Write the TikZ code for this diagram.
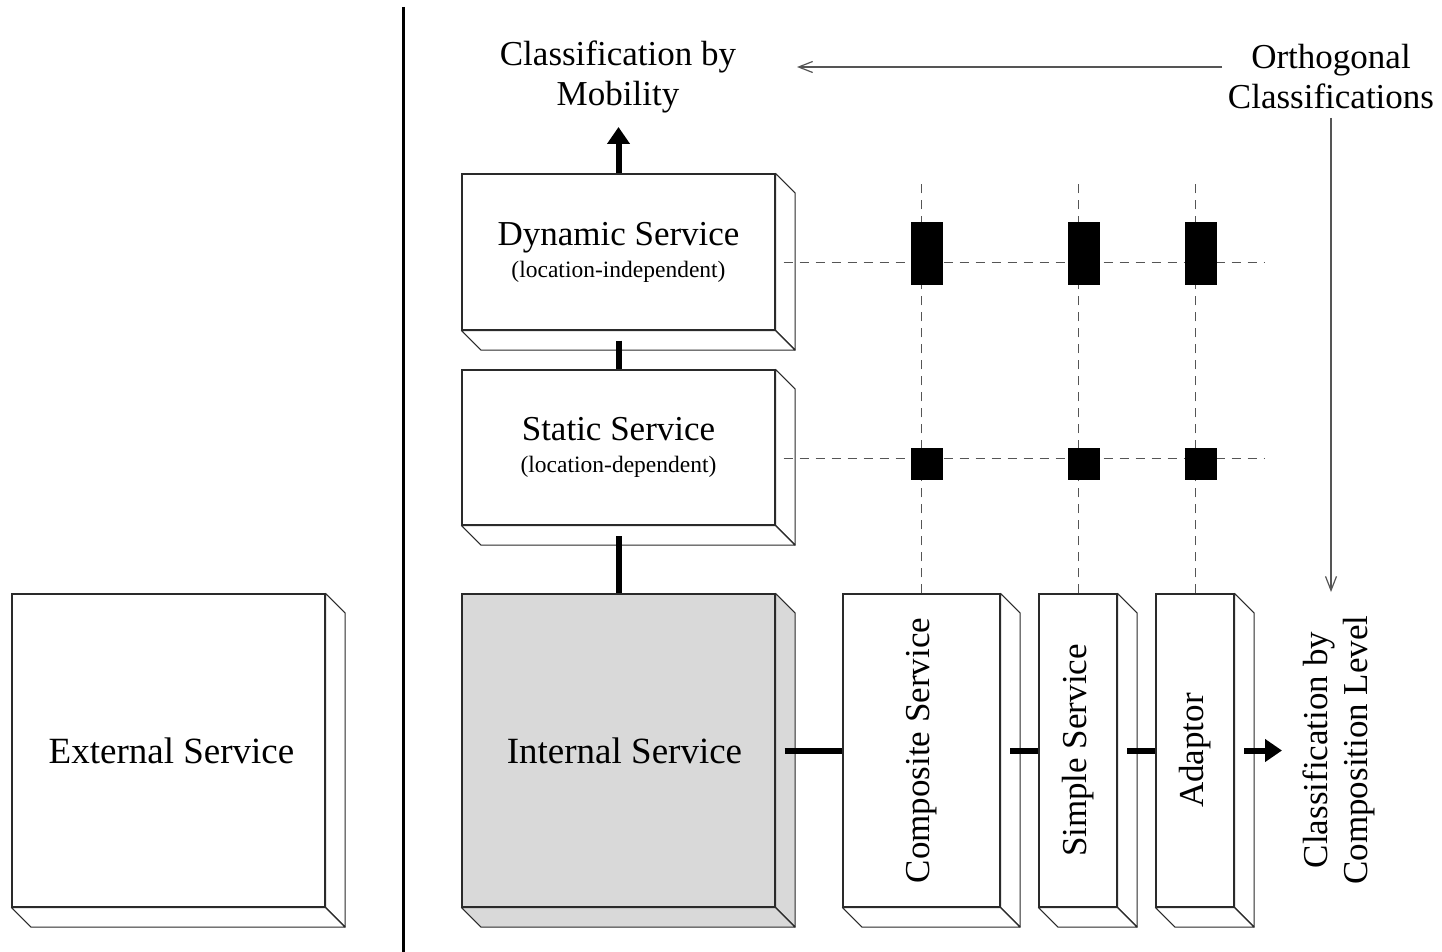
\documentclass[tikz,border=0pt]{standalone}
\usepackage{fontspec}
\setmainfont{Liberation Serif}
\usetikzlibrary{arrows.meta}

\definecolor{edge}{HTML}{2A2A2A}
\definecolor{guide}{HTML}{555555}
\definecolor{shade}{HTML}{D9D9D9}

\tikzset{
  svc/.style={draw=edge, line width=1.1pt, fill=white, rectangle, inner sep=0pt,
              font=\fontsize{35}{35}\selectfont, align=center},
  bigsvc/.style={svc, font=\fontsize{37}{37}\selectfont},
  side/.style={draw=edge, line width=1.1pt, line join=round},
  link/.style={line width=6pt, black},
  linkarrow/.style={link, -{Triangle[length=17pt,width=22pt]}},
  thinarrow/.style={guide, line width=1.2pt, -{Straight Barb[length=14pt,width=11pt,line width=1.2pt]}},
  gridline/.style={guide, line width=1pt, dash pattern=on 9pt off 7pt},
  marker/.style={fill=black, draw=none, inner sep=0pt, rectangle},
  caption/.style={font=\fontsize{35}{40}\selectfont, align=center, inner sep=0pt},
}

% depth of the extruded faces of a service box
\newcommand\depthoff{19.5}
% draws right and bottom faces of box #1 with fill #2
\newcommand\extrudebox[2]{%
  \filldraw[side, fill=#2] (#1.north east) -- ++(\depthoff,\depthoff)
    -- ([shift={(\depthoff,\depthoff)}]#1.south east) -- (#1.south east) -- cycle;
  \filldraw[side, fill=#2] (#1.south west) -- ++(\depthoff,\depthoff)
    -- ([shift={(\depthoff,\depthoff)}]#1.south east) -- (#1.south east) -- cycle;
}

\begin{document}
\begin{tikzpicture}[x=1pt, y=-1pt]
\useasboundingbox (0,0) rectangle (1442,952);

% separator between external and internal sides
\coordinate (septop) at (403.5,7);
\coordinate (sepbot) at (403.5,952);
\draw[line width=3.5pt] (septop) -- (sepbot);

% service boxes
\node[bigsvc, minimum width=313pt, minimum height=313pt] (ext) at (168.5,750.5) {\hspace*{6pt}External Service};
\node[svc, minimum width=313pt, minimum height=156pt] (dyn) at (618.5,252)
  {Dynamic Service\\[-3pt]{\fontsize{23.5}{28}\selectfont (location-independent)}};
\node[svc, minimum width=313pt, minimum height=155pt] (stat) at (618.5,447.5)
  {Static Service\\[-3pt]{\fontsize{23.5}{28}\selectfont (location-dependent)}};
\node[bigsvc, fill=shade, minimum width=313pt, minimum height=313pt] (int) at (618.5,750.5) {\hspace*{12pt}Internal Service};
\node[svc, minimum width=157pt, minimum height=313pt] (comp) at (921.5,750.5) {};
\node[svc, minimum width=78pt, minimum height=313pt] (simp) at (1078,750.5) {};
\node[svc, minimum width=78pt, minimum height=313pt] (adap) at (1195,750.5) {};

\extrudebox{ext}{white}
\extrudebox{dyn}{white}
\extrudebox{stat}{white}
\extrudebox{int}{shade}
\extrudebox{comp}{white}
\extrudebox{simp}{white}
\extrudebox{adap}{white}

% rotated labels of the composition boxes
\node[rotate=90, font=\fontsize{35}{35}\selectfont] at (comp.center) {Composite Service};
\node[rotate=90, font=\fontsize{35}{35}\selectfont] at (simp.center) {Simple Service};
\node[rotate=90, font=\fontsize{35}{35}\selectfont] at (adap.center) {Adaptor};

% classification labels
\node[caption] (mob) at (618,77) {Classification by\\Mobility};
\node[caption] (orth) at (1331,77) {Orthogonal\\Classifications};
\node[caption, rotate=90] (complev) at (1339,750) {Classification by\\Composition Level};

% grid of orthogonal combinations
\coordinate (hend1) at (1265,262);
\coordinate (hend2) at (1265,458);
\draw[gridline] ([xshift=8pt,yshift=-10pt]dyn.east) -- (hend1);
\draw[gridline] ([xshift=8pt,yshift=-10.5pt]stat.east) -- (hend2);
\coordinate (vtop1) at (921.5,183);
\coordinate (vtop2) at (1078,183);
\coordinate (vtop3) at (1195,183);
\draw[gridline] (comp.north) -- (vtop1);
\draw[gridline] (simp.north) -- (vtop2);
\draw[gridline] (adap.north) -- (vtop3);

\node[marker, minimum width=32pt, minimum height=63pt] (m11) at (927,253.5) {};
\node[marker, minimum width=32pt, minimum height=63pt] (m12) at (1084,253.5) {};
\node[marker, minimum width=32pt, minimum height=63pt] (m13) at (1201,253.5) {};
\node[marker, minimum width=32pt, minimum height=32pt] (m21) at (927,464) {};
\node[marker, minimum width=32pt, minimum height=32pt] (m22) at (1084,464) {};
\node[marker, minimum width=32pt, minimum height=32pt] (m23) at (1201,464) {};

% mobility axis
\coordinate (mobtip) at (618.5,127);
\draw[linkarrow] (dyn.north) -- (mobtip);
\draw[link] ([yshift=-10pt]dyn.south) -- (stat.north);
\draw[link] ([yshift=-10.5pt]stat.south) -- (int.north);

% composition axis
\draw[link] ([xshift=9pt]int.east) -- (comp.west);
\draw[link] ([xshift=9.5pt]comp.east) -- (simp.west);
\draw[link] ([xshift=9.5pt]simp.east) -- (adap.west);
\coordinate (comptip) at (1282,750.5);
\draw[linkarrow] ([xshift=9.5pt]adap.east) -- (comptip);

% orthogonal classification arrows
\coordinate (orthleft) at (1222,67);
\coordinate (orthlefttip) at (797,67);
\coordinate (orthdown) at (1331,118);
\coordinate (orthdowntip) at (1331,592);
\draw[thinarrow] (orthleft) -- (orthlefttip);
\draw[thinarrow] (orthdown) -- (orthdowntip);
\end{tikzpicture}
\end{document}
